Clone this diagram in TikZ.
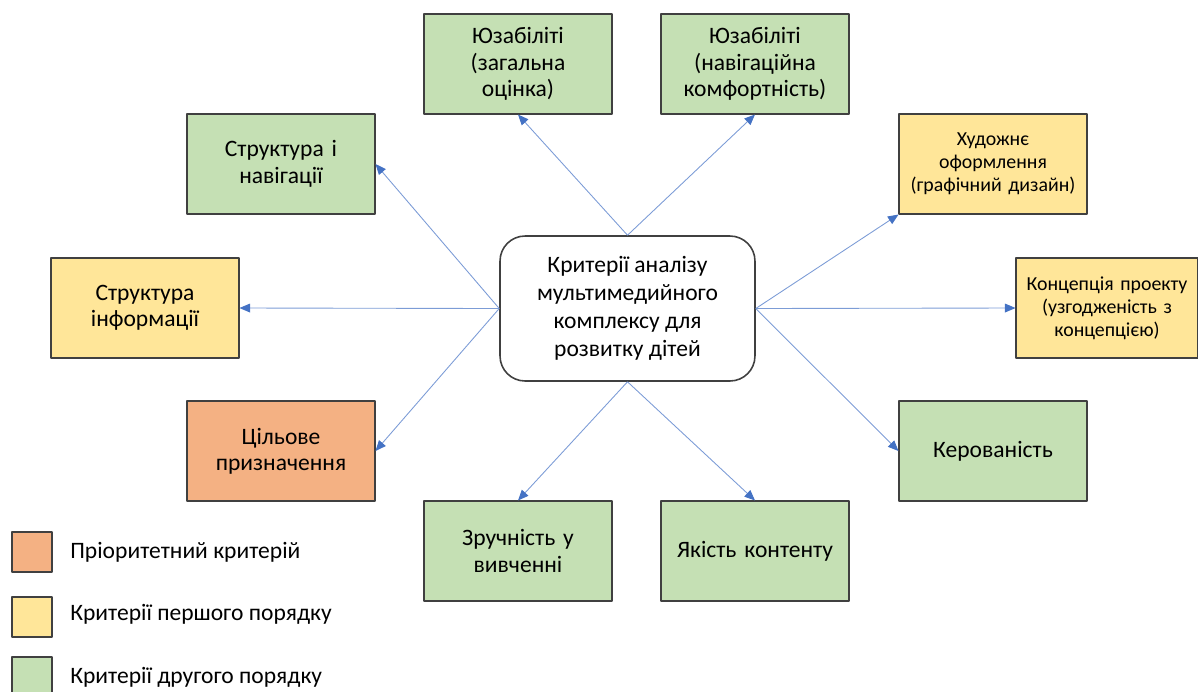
\documentclass[tikz,border=0pt]{standalone}
\usepackage{fontspec}
\setmainfont{Carlito}
\usetikzlibrary{arrows.meta}
\definecolor{prio}{HTML}{F4B183}
\definecolor{first}{HTML}{FFE699}
\definecolor{second}{HTML}{C5E0B4}
\definecolor{arrowblue}{HTML}{4472C4}
\definecolor{boxline}{HTML}{404040}
\tikzset{
  crit/.style={draw=boxline, line width=0.6pt, minimum width=3.76cm, minimum height=2cm,
    align=center, text width=3.6cm, font=\fontsize{13.4}{15}\selectfont, inner sep=0pt},
  critsmall/.style={crit, font=\fontsize{11.3}{13}\selectfont},
  legbox/.style={draw=boxline, line width=0.6pt, minimum size=0.8cm, inner sep=0pt},
  legtext/.style={anchor=west, font=\fontsize{13.4}{15}\selectfont, inner sep=0pt},
  link/.style={draw=arrowblue!70, line width=0.5pt, -{Triangle[length=6pt,width=5pt,fill=arrowblue,color=arrowblue]}}
}
\begin{document}
\begin{tikzpicture}[x=0.02cm, y=-0.02cm, line join=round]
  \useasboundingbox (0,0) rectangle (1198,691);
  % centre
  \node[draw=boxline, line width=0.9pt, rounded corners=0.5cm, minimum width=5.1cm, minimum height=2.9cm,
    align=center, font=\fontsize{13.4}{16}\selectfont] (main) at (627.5,308.5)
    {Критерії аналізу\\мультимедийного\\комплексу для\\розвитку дітей};
  % criteria
  \node[crit, fill=second] (usegen) at (518,64) {Юзабіліті\\(загальна\\оцінка)};
  \node[crit, fill=second] (usenav) at (755,64) {Юзабіліті\\(навігаційна\\комфортність)};
  \node[crit, fill=second] (struct) at (281,164) {Структура і\\навігації};
  \node[critsmall, fill=first] (design) at (993,164) {Художнє\\оформлення\\(графічний дизайн)};
  \node[crit, fill=first] (info) at (145,308) {Структура\\інформації};
  \node[critsmall, fill=first, minimum width=3.64cm, text width=3.4cm] (concept) at (1107,308)
    {Концепція проекту\\(узгодженість з\\концепцією)};
  \node[crit, fill=prio] (goal) at (281,451) {Цільове\\призначення};
  \node[crit, fill=second] (control) at (993,451) {Керованість};
  \node[crit, fill=second] (learn) at (518,551) {Зручність у\\вивченні};
  \node[crit, fill=second] (quality) at (755,551) {Якість контенту};
  % connectors
  \draw[link] (main.north) -- (usegen.south);
  \draw[link] (main.north) -- (usenav.south);
  \draw[link] (main.west) -- (struct.east);
  \draw[link] (main.west) -- (info.east);
  \draw[link] (main.west) -- (goal.east);
  \draw[link] (main.east) -- (design.south west);
  \draw[link] (main.east) -- (concept.west);
  \draw[link] (main.east) -- (control.west);
  \draw[link] (main.south) -- (learn.north);
  \draw[link] (main.south) -- (quality.north);
  % legend
  \node[legbox, fill=prio] (legprio) at (32,552) {};
  \node[legbox, fill=first] (legfirst) at (32,617) {};
  \node[legbox, fill=second] (legsecond) at (32,677) {};
  \node[legtext] (tprio) at (70,552) {Пріоритетний критерій};
  \node[legtext] (tfirst) at (70,614) {Критерії першого порядку};
  \node[legtext] (tsecond) at (70,677) {Критерії другого порядку};
\end{tikzpicture}
\end{document}
